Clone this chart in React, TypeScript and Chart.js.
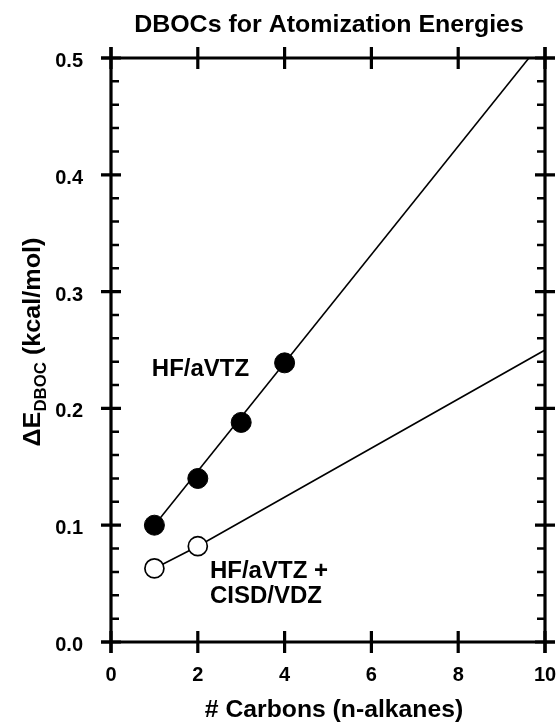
import { useEffect, useRef } from "react";
import { Chart, registerables } from "chart.js";

Chart.register(...registerables);

// ---- data ----
const hfCarbons = [1, 2, 3, 4];
const hfDboc = [0.1, 0.14, 0.188, 0.239];
const ciCarbons = [1, 2];
const ciDboc = [0.063, 0.082];
const hfFitCarbons = [1, 9.63];
const hfFitDboc = [0.1, 0.5];
const ciFitCarbons = [1, 2, 10];
const ciFitDboc = [0.063, 0.082, 0.25];

const xTicks = [0, 2, 4, 6, 8, 10];
const xTickLabels = ["0", "2", "4", "6", "8", "10"];
const yTicks = [0, 0.1, 0.2, 0.3, 0.4, 0.5];
const yTickLabels = ["0.0", "0.1", "0.2", "0.3", "0.4", "0.5"];
const yMinorTicks = [
  0.02, 0.04, 0.06, 0.08, 0.12, 0.14, 0.16, 0.18, 0.22, 0.24, 0.26, 0.28,
  0.32, 0.34, 0.36, 0.38, 0.42, 0.44, 0.46, 0.48,
];

const titleText = "DBOCs for Atomization Energies";
const xTitleText = "# Carbons (n-alkanes)";
const yTitleMain = "\u0394E";
const yTitleSub = "DBOC";
const yTitleRest = " (kcal/mol)";
const hfLabel = "HF/aVTZ";
const ciLabelLines = ["HF/aVTZ +", "CISD/VDZ"];

const FONT = '"Liberation Sans", Arial, Helvetica, sans-serif';

function drawText(
  ctx: CanvasRenderingContext2D,
  s: string,
  x: number,
  y: number,
  size: number,
  align: CanvasTextAlign,
  stretch = 1,
  baseline: CanvasTextBaseline = "alphabetic"
) {
  ctx.save();
  ctx.translate(x, y);
  ctx.scale(stretch, 1);
  ctx.font = `bold ${size}px ${FONT}`;
  ctx.textAlign = align;
  ctx.textBaseline = baseline;
  ctx.fillStyle = "#000";
  ctx.fillText(s, 0, 0);
  ctx.restore();
}

const framePlugin = {
  id: "frame",
  beforeDraw(chart: any) {
    const ctx = chart.ctx as CanvasRenderingContext2D;
    ctx.save();
    ctx.fillStyle = "#fff";
    ctx.fillRect(0, 0, chart.width, chart.height);
    ctx.restore();
  },
  afterDatasetsDraw(chart: any) {
    const ctx = chart.ctx as CanvasRenderingContext2D;
    const xs = chart.scales.x;
    const ys = chart.scales.y;
    const { left, right, top, bottom } = chart.chartArea;
    ctx.save();
    ctx.strokeStyle = "#000";
    ctx.lineWidth = 3.2;
    ctx.lineCap = "butt";
    // frame
    ctx.beginPath();
    ctx.moveTo(left - 10, top);
    ctx.lineTo(right + 10, top);
    ctx.moveTo(left - 10, bottom);
    ctx.lineTo(right + 10, bottom);
    ctx.moveTo(left, top - 11);
    ctx.lineTo(left, bottom + 11);
    ctx.moveTo(right, top - 11);
    ctx.lineTo(right, bottom + 11);
    ctx.stroke();
    // x major ticks (crossing, top and bottom)
    ctx.beginPath();
    xTicks.forEach((v) => {
      const px = xs.getPixelForValue(v);
      ctx.moveTo(px, bottom - 11);
      ctx.lineTo(px, bottom + 11);
      ctx.moveTo(px, top - 11);
      ctx.lineTo(px, top + 11);
    });
    // y major ticks (crossing, left and right)
    yTicks.forEach((v) => {
      const py = ys.getPixelForValue(v);
      ctx.moveTo(left - 10, py);
      ctx.lineTo(left + 10, py);
      ctx.moveTo(right - 10, py);
      ctx.lineTo(right + 10, py);
    });
    ctx.stroke();
    // y minor ticks (inward)
    ctx.lineWidth = 2.5;
    ctx.beginPath();
    yMinorTicks.forEach((v) => {
      const py = ys.getPixelForValue(v);
      ctx.moveTo(left, py);
      ctx.lineTo(left + 8, py);
      ctx.moveTo(right, py);
      ctx.lineTo(right - 8, py);
    });
    ctx.stroke();

    // tick labels
    xTicks.forEach((v, i) => {
      drawText(ctx, xTickLabels[i], xs.getPixelForValue(v), bottom + 39, 20, "center");
    });
    yTicks.forEach((v, i) => {
      drawText(ctx, yTickLabels[i], left - 28, ys.getPixelForValue(v) + 9, 20, "right");
    });

    // titles
    drawText(ctx, titleText, 329, 32, 24, "center", 1.04);
    drawText(ctx, xTitleText, 334, 717, 24, "center", 1.03);

    // y title rotated with subscript
    ctx.save();
    ctx.translate(40, 342);
    ctx.rotate(-Math.PI / 2);
    const big = `bold 24px ${FONT}`;
    const small = `bold 16px ${FONT}`;
    ctx.font = big;
    const w1 = ctx.measureText(yTitleMain).width;
    const w3 = ctx.measureText(yTitleRest).width;
    ctx.font = small;
    const w2 = ctx.measureText(yTitleSub).width;
    const stretch = 1.05;
    ctx.scale(stretch, 1);
    let cx = -(w1 + w2 + w3) / 2;
    ctx.fillStyle = "#000";
    ctx.textAlign = "left";
    ctx.textBaseline = "alphabetic";
    ctx.font = big;
    ctx.fillText(yTitleMain, cx, 0);
    cx += w1;
    ctx.font = small;
    ctx.fillText(yTitleSub, cx, 6);
    cx += w2;
    ctx.font = big;
    ctx.fillText(yTitleRest, cx, 0);
    ctx.restore();

    // annotations (data coordinates)
    drawText(ctx, hfLabel, xs.getPixelForValue(0.94), ys.getPixelForValue(0.228), 24, "left");
    drawText(ctx, ciLabelLines[0], xs.getPixelForValue(2.28), ys.getPixelForValue(0.055), 24, "left");
    drawText(ctx, ciLabelLines[1], xs.getPixelForValue(2.28), ys.getPixelForValue(0.0335), 24, "left");
    ctx.restore();
  },
};

export default function App() {
  const ref = useRef<HTMLCanvasElement | null>(null);
  useEffect(() => {
    document.body.style.margin = "0";
    const canvas = ref.current;
    if (!canvas) return;
    const toXY = (xs: number[], ys: number[]) => xs.map((x, i) => ({ x, y: ys[i] }));
    const chart = new Chart(canvas, {
      type: "scatter",
      data: {
        datasets: [
          {
            label: "HF/aVTZ",
            data: toXY(hfCarbons, hfDboc),
            pointRadius: 10,
            pointHoverRadius: 10,
            backgroundColor: "#000",
            borderColor: "#000",
            borderWidth: 1,
            showLine: false,
            order: 0,
          },
          {
            label: "HF/aVTZ + CISD/VDZ",
            data: toXY(ciCarbons, ciDboc),
            pointRadius: 9.5,
            pointHoverRadius: 9.5,
            backgroundColor: "#fff",
            borderColor: "#000",
            borderWidth: 1.7,
            showLine: false,
            order: 0,
          },
          {
            label: "HF fit",
            data: toXY(hfFitCarbons, hfFitDboc),
            showLine: true,
            pointRadius: 0,
            borderColor: "#000",
            borderWidth: 1.6,
            order: 1,
          },
          {
            label: "CI fit",
            data: toXY(ciFitCarbons, ciFitDboc),
            showLine: true,
            pointRadius: 0,
            borderColor: "#000",
            borderWidth: 1.6,
            order: 1,
          },
        ],
      },
      options: {
        animation: false,
        responsive: false,
        layout: { padding: { left: 111, right: 14, top: 58, bottom: 81 } },
        plugins: { legend: { display: false }, tooltip: { enabled: false }, title: { display: false } },
        events: [],
        scales: {
          x: { type: "linear", min: 0, max: 10, display: false },
          y: { type: "linear", min: 0, max: 0.5, display: false },
        },
      },
      plugins: [framePlugin],
    });
    return () => chart.destroy();
  }, []);
  return (
    <canvas
      ref={ref}
      width={559}
      height={723}
      style={{ position: "absolute", left: 0, top: 0, display: "block" }}
    />
  );
}
